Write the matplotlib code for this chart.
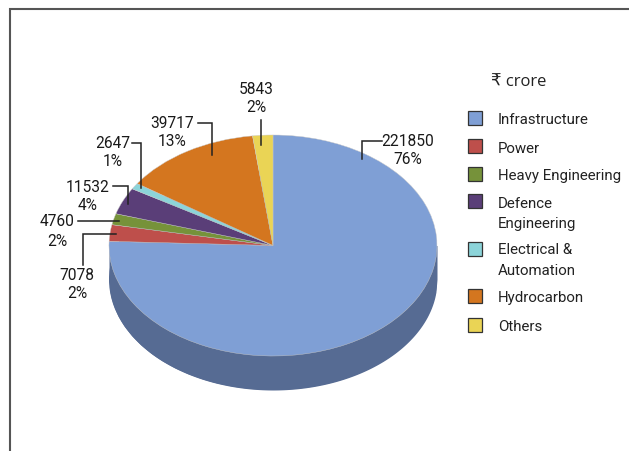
import numpy as np
import matplotlib.pyplot as plt
from matplotlib.patches import Rectangle

categories = ["Infrastructure", "Power", "Heavy Engineering", "Defence\nEngineering",
              "Electrical &\nAutomation", "Hydrocarbon", "Others"]
values = [221850, 7078, 4760, 11532, 2647, 39717, 5843]
percents = [76, 2, 2, 4, 1, 13, 2]
colors = ["#7F9FD5", "#BE4F4B", "#76923A", "#5A3E78", "#8CD4D9", "#D4761F", "#EAD455"]

W, H = 629, 451
CX, CY, RX, RY, DEPTH = 273, 245.5, 164, 110.5, 34

plt.rcParams['font.family'] = ['Roboto', 'DejaVu Sans']

fig = plt.figure(figsize=(W / 100, H / 100), dpi=100)
ax = fig.add_axes([0, 0, 1, 1])

# pie axes: one data unit is one radius, squashed so the circle is an ellipse
pie_ax = fig.add_axes([0, 0, 1, 1], zorder=1)
pie_ax.patch.set_alpha(0)

# side wall of the pie
side = "#566B93"
pie_ax.pie([1], colors=[side], radius=1, center=(0, -DEPTH / RY), startangle=0)
xs = np.linspace(-1, 1, 300)
pie_ax.fill_between(xs, -np.sqrt(1 - xs ** 2) - DEPTH / RY, 0, color=side, lw=0)

# top face
pie_ax.pie(values, colors=colors, radius=1, startangle=90, counterclock=False,
           wedgeprops={'linewidth': 0.3, 'edgecolor': '#c8c8c8'})

pie_ax.set_aspect('auto')
pie_ax.set_xlim(-CX / RX, (W - CX) / RX)
pie_ax.set_ylim(-(H - CY) / RY, CY / RY)
pie_ax.axis('off')

# overlay in pixel coordinates, y going down like the picture
ax.set_xlim(0, W)
ax.set_ylim(H, 0)
ax.axis('off')
ax.set_zorder(2)
ax.patch.set_alpha(0)

# frame
ax.plot([10, 10, W], [H, 8.5, 8.5], color="#555555", lw=1.5, solid_joinstyle='miter')

# value labels: text centre x, first line y, second line y
label_pos = [(408, 141, 160), (77, 276, 294), (57, 222, 241), (88, 187, 206),
             (113, 143, 162), (172, 123, 142), (256, 90, 108)]
leaders = [
    ([382, 362, 362], [141, 141, 159]),
    ([116, 83, 83], [234, 234, 265]),
    ([78, 119], [221, 221]),
    ([113, 128, 128], [186, 186, 204]),
    ([132, 141, 141], [143, 143, 188]),
    ([198, 212, 212], [123, 123, 155]),
    ([261, 261], [120, 145]),
]
for v, p, (x, y1, y2), (lx, ly) in zip(values, percents, label_pos, leaders):
    ax.text(x, y1, str(v), ha='center', va='center', fontsize=11.2, color="#1a1a1a")
    ax.text(x, y2, f"{p}%", ha='center', va='center', fontsize=11.2, color="#1a1a1a")
    ax.plot(lx, ly, color="#222222", lw=1.1, solid_joinstyle='miter')

# legend
ax.text(491, 81.5, "\u20b9 crore", ha='left', va='center', fontsize=12, color="#222222",
        family=['Open Sans', 'DejaVu Sans'])
swatch_y = [111, 139, 167, 194, 242, 289, 318]
text_y = [[120], [149], [176], [204, 224], [250, 271], [298], [327]]
for cat, col, sy, ty in zip(categories, colors, swatch_y, text_y):
    ax.add_patch(Rectangle((468, sy), 14, 14, facecolor=col, edgecolor="#333333", lw=0.9))
    for line, y in zip(cat.split("\n"), ty):
        ax.text(498, y, line, ha='left', va='center', fontsize=10.8, color="#222222")

plt.savefig("out.png", dpi=100)
